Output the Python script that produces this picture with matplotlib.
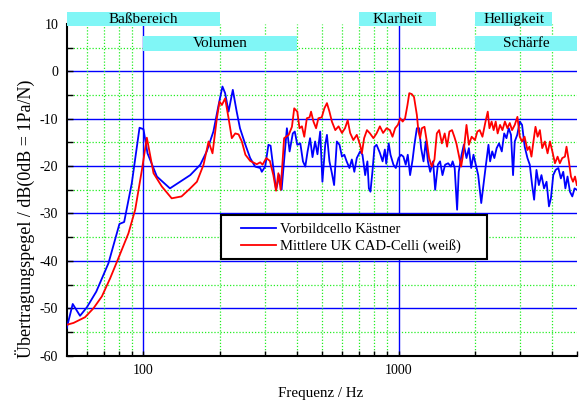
import numpy as np
import matplotlib
matplotlib.use("Agg")
import matplotlib.pyplot as plt
from matplotlib.patches import Rectangle
from matplotlib.ticker import FixedLocator, NullFormatter, FixedFormatter

plt.rcParams['font.family'] = ['Liberation Serif', 'DejaVu Serif']
plt.rcParams['axes.unicode_minus'] = False

# Vorbildcello Kaestner (blue)
f_blue = [50, 52.8, 56.4, 60, 65.3, 72.9, 80.5, 84, 90, 96.5, 100, 103.7, 112.9, 127, 152.5,
          167, 177, 188, 197, 204, 209, 215.6, 224, 232, 239, 251, 262, 274, 287, 291, 300,
          309, 315, 323, 331, 341, 348, 365, 374, 385, 392, 401, 412, 422, 431, 440, 450,
          460, 471, 481, 493, 503, 516, 524, 536, 548, 559, 573, 587, 600, 613, 626, 642,
          656, 671, 686, 707, 722, 740, 755, 765, 776, 790, 805, 820, 845, 866, 884, 895,
          915, 930, 955, 976, 1000, 1023, 1045, 1067, 1087, 1110, 1135, 1154, 1180, 1205,
          1226, 1253, 1279, 1304, 1331, 1366, 1392, 1426, 1455, 1487, 1523, 1565, 1605, 1630,
          1660, 1697, 1722, 1767, 1803, 1847, 1887, 1927, 1967, 2008, 2053, 2110, 2152, 2193,
          2252, 2286, 2330, 2375, 2425, 2478, 2540, 2596, 2650, 2704, 2760, 2812, 2855, 2920,
          2988, 3050, 3124, 3202, 3270, 3340, 3401, 3474, 3550, 3634, 3720, 3805, 3889, 3960,
          4042, 4130, 4232, 4330, 4424, 4510, 4598, 4700, 4800, 4900, 5000]
db_blue = [-54.2, -49.1, -51.6, -49.8, -46.5, -40.5, -32.2, -31.8, -23.6, -11.9, -12.2, -17.3,
           -22.2, -24.7, -21.9, -19.7, -16.9, -12.7, -7.1, -3.2, -4.6, -8.5, -3.9, -8.5, -12.0,
           -15.5, -18.3, -20.1, -20.4, -21.2, -20.1, -15.5, -15.7, -20.4, -25.0, -21.9, -25.0,
           -12.0, -16.9, -13.1, -12.7, -15.5, -15.2, -19.0, -20.1, -16.9, -14.1, -18.1, -14.8,
           -17.5, -12.7, -23.3, -15.5, -13.4, -19.0, -21.5, -24.0, -14.8, -15.5, -18.0, -17.6,
           -19.0, -20.4, -18.6, -21.2, -18.3, -16.9, -17.6, -21.9, -19.0, -24.7, -25.4, -21.2,
           -15.9, -15.5, -17.2, -19.0, -16.5, -19.5, -15.2, -17.6, -19.7, -20.4, -18.3, -17.6,
           -18.0, -19.7, -17.6, -21.9, -18.7, -15.5, -12.0, -12.0, -16.2, -19.0, -14.8, -19.0,
           -21.2, -19.0, -25.0, -19.7, -19.0, -21.9, -19.7, -19.4, -20.1, -19.0, -20.4, -29.2,
           -21.2, -17.6, -15.5, -18.3, -16.2, -20.4, -17.6, -19.7, -21.9, -27.8, -24.0, -20.4,
           -15.5, -19.0, -16.9, -18.3, -16.2, -15.2, -16.9, -13.1, -14.1, -12.0, -13.4, -21.9,
           -14.8, -13.4, -10.6, -11.3, -15.9, -18.3, -19.7, -24.0, -27.1, -20.8, -24.0, -21.9,
           -24.7, -23.3, -28.5, -26.7, -21.9, -20.8, -20.4, -22.6, -21.2, -24.7, -22.2, -25.4,
           -26.4, -24.7, -25.0]

# Mittlere UK CAD-Celli (red)
f_red = [50, 53.2, 59, 63.7, 68.7, 74, 79.8, 87.3, 92.8, 98.6, 103.1, 109.5, 118, 129, 141,
         152.5, 162, 172, 180, 186.5, 194, 198.7, 203, 209, 215.6, 222, 229, 236, 243, 251,
         262, 278, 287, 293, 303, 313, 323, 331, 338, 345, 356, 371, 382, 390, 401, 409, 418,
         427, 437, 448, 454, 464, 475, 485, 500, 512, 524, 536, 548, 565, 582, 600, 617, 632,
         646, 665, 686, 707, 718, 733, 752, 773, 797, 820, 845, 870, 898, 925, 947, 970, 994,
         1016, 1038, 1061, 1084, 1102, 1127, 1150, 1180, 1197, 1215, 1234, 1264, 1291, 1318,
         1350, 1383, 1413, 1443, 1479, 1517, 1550, 1583, 1621, 1655, 1686, 1722, 1760, 1803,
         1847, 1887, 1935, 1994, 2037, 2081, 2133, 2193, 2238, 2272, 2317, 2360, 2404, 2447,
         2500, 2555, 2613, 2672, 2730, 2787, 2855, 2925, 2988, 3051, 3120, 3202, 3260, 3320,
         3380, 3443, 3510, 3583, 3659, 3748, 3840, 3924, 4010, 4105, 4204, 4290, 4384, 4491,
         4556, 4655, 4742, 4830, 4920, 5000]
db_red = [-53.5, -53.1, -51.9, -50.0, -47.5, -43.7, -39.4, -34.2, -29.2, -20.8, -14.0, -21.5,
          -24.3, -26.8, -26.4, -24.7, -23.3, -19.7, -14.8, -17.3, -9.9, -6.4, -7.1, -5.7, -9.9,
          -14.1, -13.1, -13.3, -14.8, -17.6, -18.9, -19.6, -19.2, -19.7, -18.3, -18.9, -21.9,
          -25.2, -21.5, -25.0, -14.1, -13.4, -11.7, -7.8, -8.5, -12.0, -11.6, -13.8, -9.9,
          -9.7, -8.5, -10.6, -12.0, -9.9, -9.7, -7.8, -6.7, -8.5, -10.6, -12.4, -11.6, -13.0,
          -12.0, -10.3, -13.0, -14.5, -13.4, -15.5, -17.3, -14.1, -12.4, -13.1, -14.1, -13.1,
          -11.6, -13.0, -12.0, -12.4, -13.8, -12.0, -11.3, -9.9, -10.6, -9.9, -7.1, -4.6, -4.8,
          -5.4, -9.2, -12.7, -14.1, -12.0, -11.7, -14.8, -18.3, -20.1, -18.6, -13.1, -12.4,
          -15.2, -13.1, -15.9, -12.7, -12.4, -13.8, -15.2, -17.6, -20.1, -16.6, -11.3, -15.5,
          -13.8, -14.5, -12.7, -12.4, -13.8, -10.6, -8.5, -12.0, -10.6, -12.4, -10.6, -13.1,
          -11.3, -12.4, -10.6, -12.0, -10.9, -12.4, -11.3, -9.6, -13.8, -14.8, -13.8, -16.6,
          -15.9, -18.0, -14.8, -11.7, -13.8, -12.4, -16.2, -14.8, -17.3, -14.8, -16.9, -19.4,
          -18.0, -19.4, -18.3, -18.0, -15.9, -19.0, -22.2, -23.3, -22.2, -24.0]

# labelled frequency bands above the plot
band_names = ['Baßbereich', 'Volumen', 'Klarheit', 'Helligkeit', 'Schärfe']
band_lo = [50, 100, 700, 2000, 2000]
band_hi = [200, 400, 1400, 4000, 5000]
band_row = [0, 1, 0, 0, 1]

fig = plt.figure(figsize=(5.85, 4.0), dpi=100)
ax = fig.add_axes([0.114, 0.111, 0.872, 0.829])
ax.set_xscale('log')
ax.set_xlim(50, 5000)
ax.set_ylim(-60, 10)

# grid drawn by hand (no line at the top edge)
for y in np.arange(-50, 10, 10):
    ax.axhline(y, color='#0000ff', lw=1.0, zorder=1)
for y in np.arange(-55, 10, 10):
    ax.axhline(y, color='#22ee22', lw=0.9, ls=(0, (1, 1.5)), zorder=1)
for x in [100, 1000]:
    ax.axvline(x, color='#0000ff', lw=1.0, zorder=1)
minor_x = [60, 70, 80, 90] + list(range(200, 1000, 100)) + [2000, 3000, 4000]
for x in minor_x:
    ax.axvline(x, color='#22ee22', lw=0.9, ls=(0, (1, 1.5)), zorder=1)

ax.plot(f_blue, db_blue, color='#0000ff', lw=1.3, zorder=3, label='Vorbildcello Kästner')
ax.plot(f_red, db_red, color='#ff0000', lw=1.3, zorder=3, label='Mittlere UK CAD-Celli (weiß)')

# ticks
ax.xaxis.set_major_locator(FixedLocator([100, 1000]))
ax.xaxis.set_major_formatter(FixedFormatter(['100', '1000']))
ax.xaxis.set_minor_locator(FixedLocator(minor_x + [5000]))
ax.xaxis.set_minor_formatter(NullFormatter())
ax.set_yticks(np.arange(-60, 11, 10))
ax.set_yticks(np.arange(-55, 10, 10), minor=True)
ax.tick_params(which='both', direction='in', width=1.0, labelsize=10)
ax.tick_params(axis='y', which='both', length=4, pad=6)
ax.tick_params(axis='x', which='both', length=3.5, pad=6)
for s in ['top', 'right']:
    ax.spines[s].set_visible(False)
for s in ['left', 'bottom']:
    ax.spines[s].set_linewidth(1.5)

# legend with its own frame
frame = Rectangle((0.3025, 0.2906), 0.5222, 0.1336, transform=ax.transAxes,
                  facecolor='white', edgecolor='black', lw=1.5, zorder=4)
ax.add_patch(frame)
leg = ax.legend(loc='center left', bbox_to_anchor=(0.3418, 0.3548), frameon=False,
                fontsize=10.5, handlelength=2.4, handletextpad=0.3, labelspacing=0.25,
                borderpad=0, borderaxespad=0)
leg.set_zorder(5)

# bands
row_y = {0: (9.5, 12.6), 1: (4.2, 7.4)}
for name, lo, hi, row in zip(band_names, band_lo, band_hi, band_row):
    y0, y1 = row_y[row]
    ax.add_patch(Rectangle((lo, y0), hi - lo, y1 - y0, facecolor='#80f6f6',
                           edgecolor='none', clip_on=False, zorder=6))
    ax.text(np.sqrt(lo * hi), (y0 + y1) / 2, name, ha='center', va='center',
            fontsize=11, zorder=7, clip_on=False)

fig.text(25 / 585, 1 - 218.5 / 400, 'Übertragungspegel / dB(0dB = 1Pa/N)',
         rotation=90, ha='center', va='center', fontsize=13)
fig.text(320.5 / 585, 1 - 393 / 400, 'Frequenz / Hz', ha='center', va='center', fontsize=10.8)

fig.savefig('out.png', dpi=100)
